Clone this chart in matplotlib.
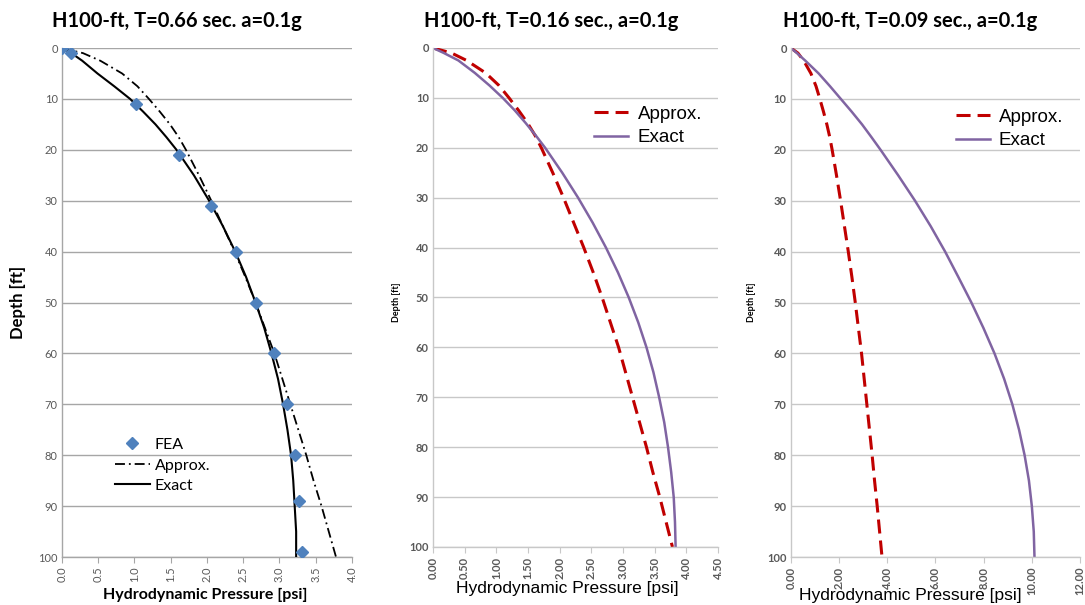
import matplotlib
matplotlib.use("Agg")
import matplotlib.pyplot as plt

# FEA results (panel 1)
depth_fea = [0, 1, 11, 21, 31, 40, 50, 60, 70, 80, 89, 99]
fea_p = [0.0, 0.13, 1.02, 1.62, 2.06, 2.40, 2.67, 2.92, 3.10, 3.21, 3.27, 3.31]

# depth readings [ft]
depth = [0, 1, 2.5, 5, 7.5, 10, 12.5, 15, 17.5, 20, 25, 30, 35, 40, 45, 50,
         55, 60, 65, 70, 75, 80, 85, 90, 95, 100]

# approximate solution (same in all three panels)
approx = [0.0, 0.29, 0.53, 0.83, 1.04, 1.20, 1.35, 1.49, 1.61, 1.71, 1.89, 2.06,
          2.22, 2.38, 2.53, 2.67, 2.80, 2.93, 3.04, 3.15, 3.26, 3.37, 3.47, 3.58,
          3.68, 3.78]

# exact solutions
exact_066 = [0.0, 0.13, 0.28, 0.49, 0.72, 0.94, 1.12, 1.29, 1.44, 1.58, 1.82, 2.03,
             2.22, 2.39, 2.54, 2.67, 2.79, 2.89, 2.98, 3.05, 3.11, 3.16, 3.19, 3.21,
             3.23, 3.23]
exact_016 = [0.0, 0.17, 0.40, 0.66, 0.89, 1.10, 1.29, 1.46, 1.62, 1.77, 2.04, 2.29,
             2.52, 2.73, 2.92, 3.09, 3.24, 3.37, 3.48, 3.57, 3.65, 3.71, 3.76, 3.80,
             3.82, 3.83]
exact_009 = [0.0, 0.25, 0.60, 1.15, 1.62, 2.07, 2.52, 2.95, 3.34, 3.72, 4.45, 5.15,
             5.80, 6.40, 6.95, 7.49, 7.99, 8.45, 8.85, 9.19, 9.47, 9.70, 9.88, 10.00,
             10.08, 10.11]

titles = ["H100-ft, T=0.66 sec. a=0.1g",
          "H100-ft, T=0.16 sec., a=0.1g",
          "H100-ft, T=0.09 sec., a=0.1g"]

calibri = ["Lato", "DejaVu Sans"]
narrow = ["Liberation Sans", "DejaVu Sans"]
tick_gray = "#595959"

fig = plt.figure(figsize=(10.85, 6.05), dpi=100)

ax1 = fig.add_axes([0.0571, 0.0793, 0.2673, 0.8413])
ax2 = fig.add_axes([0.3991, 0.0959, 0.2627, 0.8248])
ax3 = fig.add_axes([0.7290, 0.0793, 0.2664, 0.8413])

# panel 1
ax1.plot(approx, depth, color="black", lw=1.3, dashes=(5.5, 2.2, 1, 2.2), label="Approx.", zorder=3)
ax1.plot(exact_066, depth, color="black", lw=1.5, label="Exact", zorder=3)
ax1.plot(fea_p, depth_fea, ls="none", marker="D", ms=6.5, color="#4F81BD", label="FEA", zorder=4)

# panels 2, 3
ax2.plot(approx, depth, color="#C00000", lw=2.2, dashes=(4.6, 2.3), label="Approx.")
ax2.plot(exact_016, depth, color="#8064A2", lw=1.8, label="Exact")
ax3.plot(approx, depth, color="#C00000", lw=2.2, dashes=(4.6, 2.3), label="Approx.")
ax3.plot(exact_009, depth, color="#8064A2", lw=1.8, label="Exact")

limits = [(4.0, 0.5, "{:.1f}"), (4.5, 0.5, "{:.2f}"), (12.0, 2.0, "{:.2f}")]
for ax, (xmax, step, fmt) in zip([ax1, ax2, ax3], limits):
    ax.set_xlim(0, xmax)
    ax.set_ylim(100, 0)
    n = int(round(xmax / step))
    xt = [i * step for i in range(n + 1)]
    ax.set_xticks(xt)
    ax.set_xticklabels([fmt.format(v) for v in xt], rotation=90)
    ax.set_yticks(range(0, 101, 10))
    gcol = "#A6A6A6" if ax is ax1 else "#C8C8C8"
    ax.yaxis.grid(True, color=gcol, lw=1.0)
    ax.set_axisbelow(True)
    for s in ["top", "right"]:
        ax.spines[s].set_visible(False)
    for s in ["left", "bottom"]:
        ax.spines[s].set_color(gcol)
        ax.spines[s].set_linewidth(1.0)
    ax.tick_params(axis="both", length=4, color=gcol, labelcolor=tick_gray, labelsize=8, pad=3)
    ax.tick_params(axis="y", length=0)
    for lbl in ax.get_xticklabels() + ax.get_yticklabels():
        lbl.set_family(calibri)
        if ax is not ax1:
            lbl.set_fontweight("bold")

# titles and axis labels
title_x = [0.163, 0.508, 0.839]
for tx, t in zip(title_x, titles):
    fig.text(tx, 0.965, t, ha="center", va="center", fontsize=14.5, fontweight="bold", family=calibri)

fig.text(0.189, 0.017, "Hydrodynamic Pressure [psi]", ha="center", va="center",
         fontsize=11.5, fontweight="bold", family=calibri)
fig.text(0.523, 0.028, "Hydrodynamic Pressure [psi]", ha="center", va="center",
         fontsize=12.5, family=narrow)
fig.text(0.839, 0.015, "Hydrodynamic Pressure [psi]", ha="center", va="center",
         fontsize=12.5, family=narrow)

fig.text(0.017, 0.50, "Depth [ft]", ha="center", va="center", rotation=90,
         fontsize=12, fontweight="bold", family=calibri)
fig.text(0.365, 0.50, "Depth [ft]", ha="center", va="center", rotation=90,
         fontsize=6.5, fontweight="bold", family=calibri)
fig.text(0.693, 0.50, "Depth [ft]", ha="center", va="center", rotation=90,
         fontsize=6.5, fontweight="bold", family=calibri)

# legends
h, l = ax1.get_legend_handles_labels()
order = [2, 0, 1]
ax1.legend([h[i] for i in order], [l[i] for i in order], loc="upper left",
           bbox_to_anchor=(0.100, 0.287), bbox_transform=fig.transFigure,
           frameon=False, prop={"family": calibri, "size": 11.5},
           handlelength=2.2, handletextpad=0.3, labelspacing=0.4, borderaxespad=0)

ax2.legend(loc="upper left", bbox_to_anchor=(0.541, 0.838), bbox_transform=fig.transFigure,
           frameon=False, prop={"family": narrow, "size": 13.5},
           handlelength=1.8, handletextpad=0.5, labelspacing=0.35, borderaxespad=0)
ax3.legend(loc="upper left", bbox_to_anchor=(0.874, 0.833), bbox_transform=fig.transFigure,
           frameon=False, prop={"family": narrow, "size": 13.5},
           handlelength=1.8, handletextpad=0.5, labelspacing=0.35, borderaxespad=0)

fig.savefig("out.png", dpi=100)
